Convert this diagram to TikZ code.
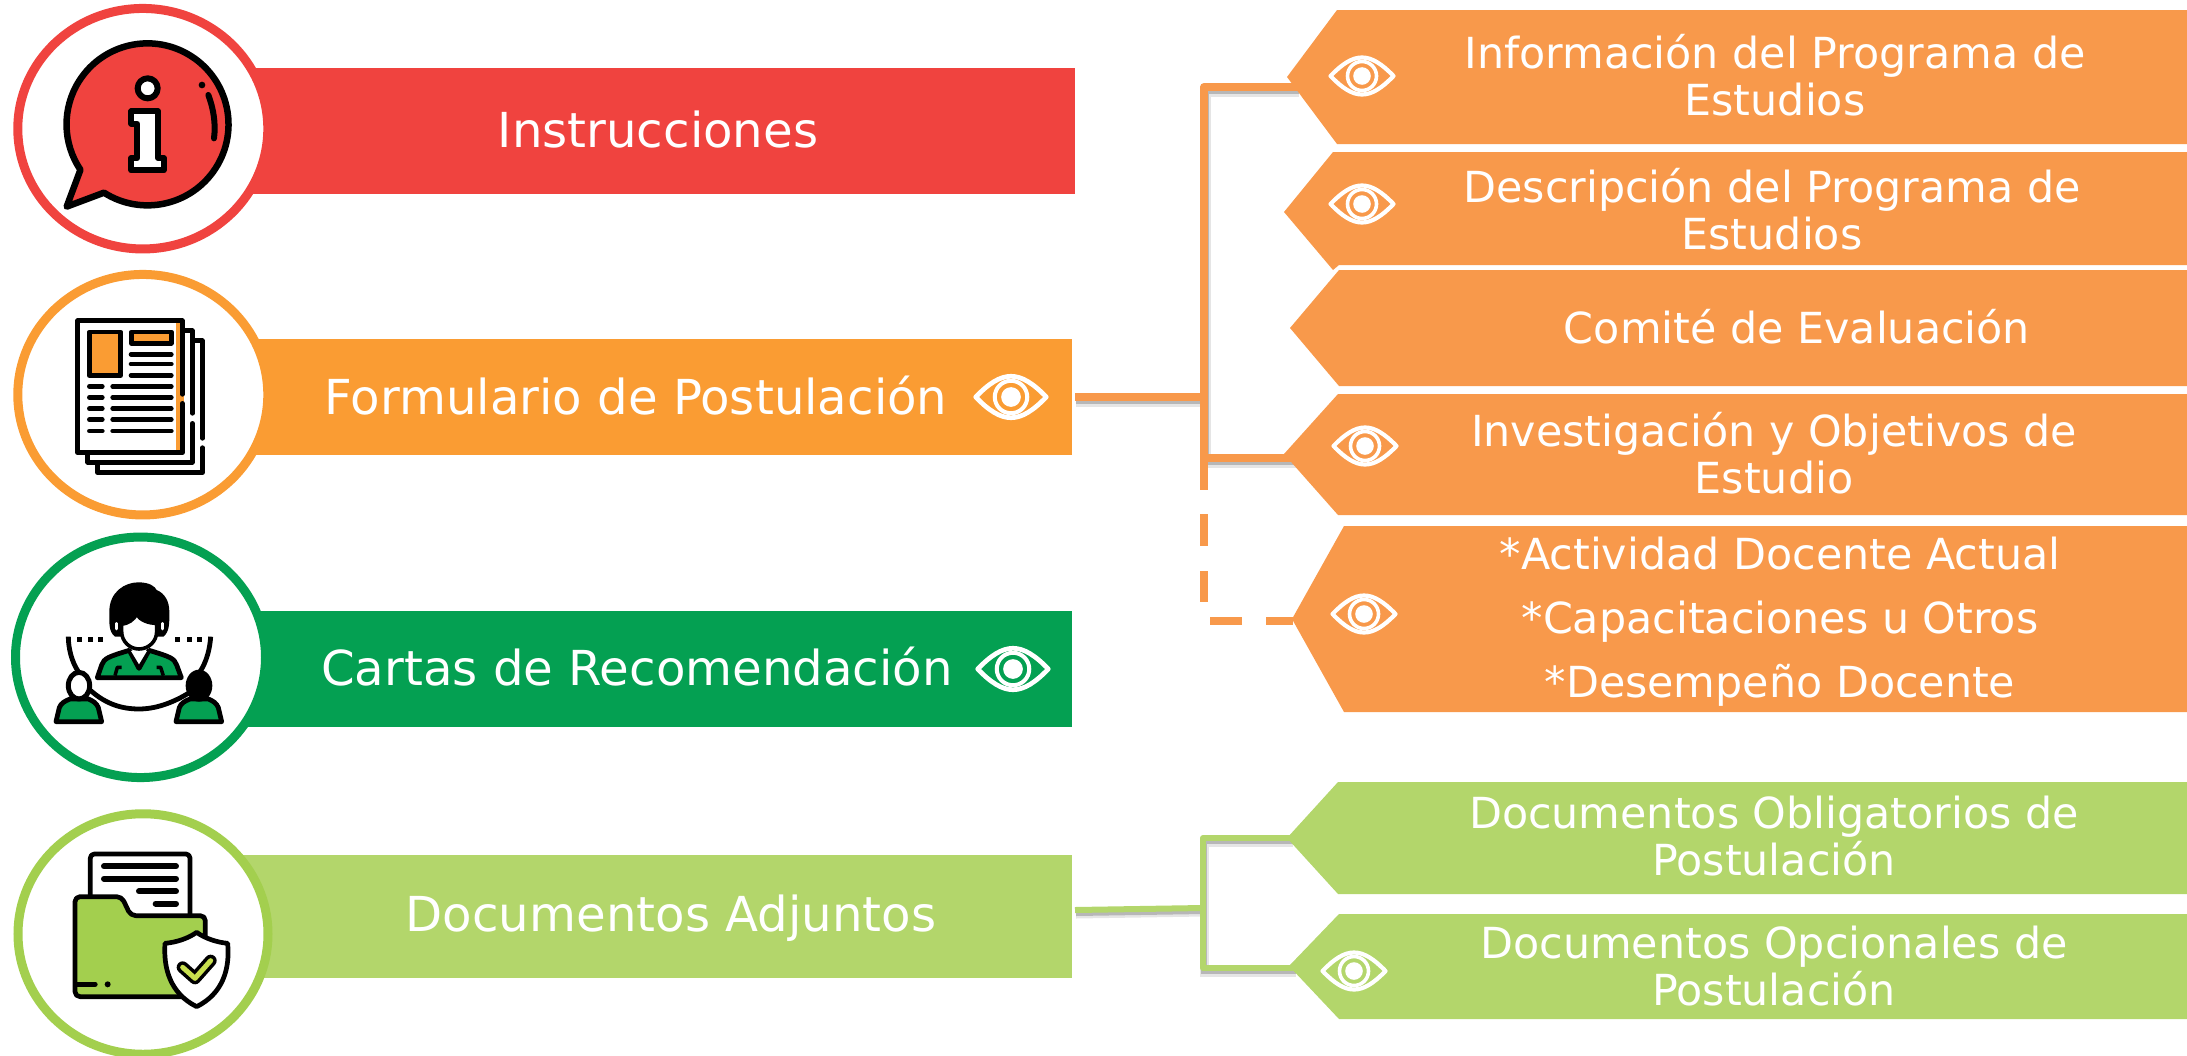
\documentclass[tikz,border=0pt]{standalone}
\usepackage{fontspec}
\usetikzlibrary{calc,shapes.geometric}
\setmainfont{DejaVu Sans}
\definecolor{cred}{HTML}{F0433F}
\definecolor{corange}{HTML}{FA9C33}
\definecolor{cgreen}{HTML}{04A052}
\definecolor{clime}{HTML}{B3D66B}
\definecolor{climering}{HTML}{A3CF4E}
\definecolor{ctag}{HTML}{F8994B}
\definecolor{ccheck}{HTML}{C8E04E}
\newcommand\bigtext{\fontsize{48.2}{50}\selectfont}
\newcommand\smalltext{\fontsize{42.8}{46.7}\selectfont}
\newcommand\tagshape[7]{%
  \coordinate (#1tip) at (#3,#4);
  \fill[#2] (#1tip) -- (#5,#6) -- (2187,#6) -- (2187,#7) -- (#5,#7) -- cycle;}
\newcommand\barnode[6]{% name colour x1 x2 y1 y2
  \node[barbox,fill=#2,minimum width={(#4)-(#3)},minimum height={(#6)-(#5)}] (#1) at ({((#3)+(#4))/2},{((#5)+(#6))/2}) {};}
\newcommand\eyeicon[3]{% x y scale
  \begin{scope}[shift={(#1,#2)},x=#3pt,y=-#3pt]
    \draw[white,line width=#3*4.2pt,line join=round] (-31.5,0) .. controls (-20,-12) and (-10,-18.5) .. (0,-18.5) .. controls (10,-18.5) and (20,-12) .. (31.5,0) .. controls (20,12) and (10,18.5) .. (0,18.5) .. controls (-10,18.5) and (-20,12) .. cycle;
    \draw[white,line width=#3*3.6pt] (0,0) circle (14.5);
    \fill[white] (0,0) circle (8.8);
  \end{scope}}
\tikzset{
  barbox/.style={inner sep=0pt,outer sep=0pt,draw=none},
  ringc/.style={ellipse,fill=white,draw=#1,line width=9pt,outer sep=0pt,inner sep=0pt,minimum width=250pt,minimum height=240.5pt},
  bigl/.style={text=white,font=\bigtext,inner sep=0pt,anchor=base},
  taglabel/.style={text=white,font=\smalltext,inner sep=0pt,align=center,anchor=base},
  conn/.style={draw=ctag,line width=8pt},
  connl/.style={draw=clime,line width=6pt},
  shadowwide/.style={draw=black,opacity=.10,line width=#1+3pt,transform canvas={xshift=1pt,yshift=-4pt}},
  shadowcore/.style={draw=black,opacity=.20,line width=#1,transform canvas={xshift=1pt,yshift=-3pt}},
  ink/.style={draw=black,line join=round,line cap=round},
  zm/.style={x=.33333pt,y=-.33333pt},
}
\begin{document}
\begin{tikzpicture}[x=1pt,y=-1pt]
\useasboundingbox (0,0) rectangle (2187,1055);
\clip (0,0) rectangle (2187,1055);
% bars
\barnode{barinst}{cred}{230}{1075}{68}{194}
\barnode{barform}{corange}{230}{1072}{339}{455}
\barnode{barcart}{cgreen}{230}{1072}{611}{727}
\barnode{bardoc}{clime}{230}{1072}{855}{978}
% anchors of connectors
\coordinate (formout) at (1075,397);
\coordinate (formjoin) at (1204,397);
\coordinate (ocorner) at (1204,87);
\coordinate (s1in) at (1298,87);
\coordinate (s4mid) at (1204,458);
\coordinate (s4in) at (1296,458);
\coordinate (ddown) at (1204,490);
\coordinate (dcorner) at (1204,621);
\coordinate (s5in) at (1293,621);
\coordinate (docout) at (1075,910);
\coordinate (docjoin) at (1203,908);
\coordinate (gcorner) at (1203,838);
\coordinate (gcornerb) at (1203,968);
\coordinate (g1in) at (1292,838);
\coordinate (g2in) at (1295,968);
% connector shadows
\draw[shadowwide=8pt] (formout) -- (formjoin);
\draw[shadowcore=8pt] (formout) -- (formjoin);
\draw[shadowwide=8pt] (s1in) -- (ocorner) -- (s4mid) -- (s4in);
\draw[shadowcore=8pt] (s1in) -- (ocorner) -- (s4mid) -- (s4in);
\draw[shadowwide=6pt] (docout) -- (docjoin);
\draw[shadowcore=6pt] (docout) -- (docjoin);
\draw[shadowwide=6pt] (g1in) -- (gcorner) -- (gcornerb) -- (g2in);
\draw[shadowcore=6pt] (g1in) -- (gcorner) -- (gcornerb) -- (g2in);
% connectors
\draw[conn] (formout) -- (formjoin);
\draw[conn,line join=round] (s1in) -- (ocorner) -- (ddown);
\draw[conn] (s4mid) -- (s4in);
\draw[conn] ($(ddown)+(0,24)$) -- ($(ddown)+(0,56)$);
\draw[conn] ($(ddown)+(0,81)$) -- ($(ddown)+(0,112)$);
\draw[conn] ($(dcorner)+(6,0)$) -- ($(dcorner)+(38,0)$);
\draw[conn] ($(dcorner)+(62,0)$) -- (s5in);
\draw[connl] (docout) -- (docjoin);
\draw[connl,line join=round] (g1in) -- (gcorner) -- (gcornerb) -- (g2in);
% tags
\tagshape{s1}{ctag}{1287}{77}{1337}{10}{144}
\coordinate (s2tip) at (1284,212);
\fill[ctag] (s2tip) -- (1333,152) -- (2187,152) -- (2187,265) -- (1339,265) -- (1333,270) -- cycle;
\tagshape{s3}{ctag}{1290}{328}{1339}{270}{386}
\tagshape{s4}{ctag}{1284}{454}{1338}{394}{515}
\tagshape{s5}{ctag}{1292}{619}{1344}{526}{712}
\tagshape{g1}{clime}{1287}{838}{1338}{782}{894}
\tagshape{g2}{clime}{1289}{966}{1339}{914}{1019}
% tag labels
\node[taglabel] (ts1) at (1775,115) {Información del Programa de\\Estudios};
\node[taglabel] (ts2) at (1772,249) {Descripción del Programa de\\Estudios};
\node[taglabel] (ts3) at (1797,343) {Comité de Evaluación};
\node[taglabel] (ts4) at (1774,493) {Investigación y Objetivos de\\Estudio};
\node[taglabel] (ts5a) at (1780,569) {*Actividad Docente Actual};
\node[taglabel] (ts5b) at (1780,633) {*Capacitaciones u Otros};
\node[taglabel] (ts5c) at (1780,697) {*Desempeño Docente};
\node[taglabel] (tg1) at (1774,875) {Documentos Obligatorios de\\Postulación};
\node[taglabel] (tg2) at (1774,1005) {Documentos Opcionales de\\Postulación};
% bar labels
\node[bigl] (tinst) at (658,147) {Instrucciones};
\node[bigl] (tform) at (636,414) {Formulario de Postulación};
\node[bigl] (tcart) at (637,685) {Cartas de Recomendación};
\node[bigl] (tdoc) at (671,931.5) {Documentos Adjuntos};
% eyes
\eyeicon{1011}{397}{1.12}
\eyeicon{1013}{669}{1.12}
\eyeicon{1362}{76}{1}
\eyeicon{1362}{204}{1}
\eyeicon{1365}{446}{1}
\eyeicon{1364}{614}{1}
\eyeicon{1354}{971}{1}
% circles
\node[ringc=cred] (cinst) at (142.8,128.7) {};
\node[ringc=corange] (cform) at (142.8,394.7) {};
\node[ringc=cgreen] (ccart) at (140.5,657.3) {};
\node[ringc=climering] (cdoc) at (143,934) {};
% info icon
\begin{scope}[zm]
  \draw[ink,fill=cred,line width=6.5pt] (312,578) arc[start angle=122.5,end angle=-214.1,radius=243] -- (200,620) -- cycle;
  \fill (606,255) circle (10);
  \draw[ink,line width=6pt] (625,285) .. controls (640,325) and (648,370) .. (642,415);
  \draw[ink,fill=white,line width=6pt] (443,265) circle (30);
  \draw[ink,fill=white,line width=6pt] (394,334) -- (474,334) -- (474,474) -- (491,474) -- (491,511) -- (394,511) -- (394,474) -- (412,474) -- (412,371) -- (394,371) -- cycle;
\end{scope}
% document icon
\begin{scope}[zm,shift={(0,780)},line width=4.6pt]
  \fill[corange] (528,190) rectangle (541,570);
  \fill[corange] (541,403) rectangle (552,430);
  \draw[ink] (547,403) -- (547,182) -- (233,182) -- (233,578) -- (547,578) -- (547,430);
  \draw[ink] (547,212) -- (577,212) -- (577,460);
  \draw[ink] (577,490) -- (577,607) -- (263,607) -- (263,578);
  \draw[ink] (577,242) -- (607,242) -- (607,535);
  \draw[ink] (607,563) -- (607,638) -- (293,638) -- (293,607);
  \draw[ink,fill=corange] (268,216) rectangle (362,347);
  \draw[ink,fill=corange] (394,216) rectangle (514,250);
  \foreach \yy in {283,312,346} \draw[ink] (393,\yy) -- (514,\yy);
  \foreach \yy in {379,412,446,479,513} {
    \draw[ink] (268,\yy) -- (307,\yy);
    \draw[ink] (338,\yy) -- (514,\yy);}
\end{scope}
% people icon
\begin{scope}[zm,shift={(0,1575)},line width=4.8pt]
  % side curves and dots
  \draw[draw=black] (205,335) .. controls (205,370) and (215,410) .. (235,440);
  \draw[draw=black] (632,335) .. controls (630,370) and (620,410) .. (600,440);
  \foreach \xx in {230,264,295,525,560,590} \fill (\xx,336) rectangle (\xx+15,352);
  \draw[draw=black] (270,495) .. controls (320,540) and (370,552) .. (417,552) .. controls (465,552) and (515,535) .. (565,505);
  % main person body
  \draw[ink,fill=cgreen] (292,458) -- (305,420) .. controls (312,400) and (325,395) .. (388,376) -- (417,430) -- (447,376) .. controls (510,395) and (523,400) .. (530,420) -- (544,458) -- cycle;
  \fill[white] (393,378) -- (417,418) -- (441,378) -- cycle;
  \draw[ink,line width=3.5pt,line cap=butt] (345,452) -- (352,427) -- (365,427);
  \draw[ink,line width=3.5pt,line cap=butt] (490,452) -- (482,427) -- (470,427);
  % hair and face
  \fill (345,335) .. controls (325,320) and (328,290) .. (328,260) .. controls (328,200) and (375,172) .. (415,172) .. controls (450,172) and (465,185) .. (470,195) .. controls (495,205) and (508,230) .. (508,260) .. controls (508,290) and (510,320) .. (490,335) -- cycle;
  \draw[white,line width=2.6pt,line cap=round] (349,295) -- (349,312);
  \draw[white,line width=2.6pt,line cap=round] (487,295) -- (487,312);
  \draw[ink,fill=white,line width=3.6pt] (365,298) .. controls (385,295) and (400,285) .. (410,268) .. controls (420,285) and (445,295) .. (470,295) -- (470,320) .. controls (470,350) and (445,372) .. (417,372) .. controls (390,372) and (365,350) .. (365,320) -- cycle;
  % left person
  \draw[ink,fill=cgreen] (168,590) -- (178,548) .. controls (182,535) and (195,528) .. (210,522) -- (265,522) .. controls (280,528) and (290,535) .. (295,548) -- (305,590) -- cycle;
  \draw[ink,fill=white,line width=5pt] (237,482) ellipse (32 and 40);
  % right person
  \draw[ink,fill=cgreen] (528,590) -- (538,548) .. controls (542,535) and (555,528) .. (570,522) -- (625,522) .. controls (640,528) and (650,535) .. (655,548) -- (665,590) -- cycle;
  \fill (597,482) ellipse (40 and 48);
\end{scope}
% folder icon
\begin{scope}[zm,shift={(0,2385)}]
  \draw[ink,fill=white,line width=4.7pt,rounded corners=4pt] (271,360) -- (271,177) -- (570,177) -- (570,360);
  \draw[ink,line width=6pt] (312,214) -- (528,214);
  \draw[ink,line width=6pt] (312,251) -- (528,251);
  \draw[ink,line width=6pt] (417,289) -- (528,289);
  \draw[ink,line width=6pt] (467,326) -- (528,326);
  \draw[ink,fill=climering,line width=4.7pt,rounded corners=5pt] (616,460) -- (616,362) -- (392,362) -- (365,305) -- (225,305) -- (225,605) -- (560,605);
  \draw[ink,line width=5.4pt] (232,568) -- (285,568);
  \fill (323,568) circle (9);
  \draw[ink,fill=white,line width=4.7pt] (590,412) .. controls (565,430) and (530,442) .. (495,445) .. controls (490,520) and (510,595) .. (590,635) .. controls (670,595) and (690,520) .. (683,445) .. controls (650,442) and (615,430) .. (590,412) -- cycle;
  \draw[ink,line width=12pt] (548,517) -- (585,550) -- (632,497);
  \draw[draw=ccheck,line width=5pt,line cap=round,line join=round] (548,517) -- (585,550) -- (632,497);
\end{scope}
\end{tikzpicture}
\end{document}
